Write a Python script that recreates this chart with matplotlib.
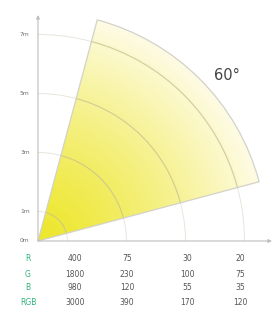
import numpy as np
import matplotlib
matplotlib.use('Agg')
import matplotlib.pyplot as plt
from matplotlib.patches import Wedge, Arc

# Dados do gráfico
beam_angle = 60                     # abertura do feixe (graus)
beam_start = 15                     # borda inferior do feixe (graus)
beam_reach = 7.76                   # alcance (m)
ring_dist = [1, 3, 5, 7]            # distâncias dos arcos (m)
ytick_vals = [0, 1, 3, 5, 7]
ytick_labels = ['0m', '1m', '3m', '5m', '7m']

row_names = ['R', 'G', 'B', 'RGB']
lux_r = [400, 75, 30, 20]
lux_g = [1800, 230, 100, 75]
lux_b = [980, 120, 55, 35]
lux_rgb = [3000, 390, 170, 120]

# Layout (pixels -> metros)
W, H, DPI = 280, 313, 100
px_m = 29.5
ox, oy = 38, 241
cinza = '#bdbdbd'
verde = '#2fb37a'
texto = '#555555'

fig = plt.figure(figsize=(W / DPI, H / DPI), dpi=DPI)
ax = fig.add_axes([0, 0, 1, 1])
ax.set_xlim(-ox / px_m, (W - ox) / px_m)
ax.set_ylim(-(H - oy) / px_m, oy / px_m)
ax.set_aspect('equal')
ax.axis('off')

# Feixe com gradiente radial
wedge = Wedge((0, 0), beam_reach, beam_start, beam_start + beam_angle,
              facecolor='none', edgecolor='#d2d2c8', lw=0.9, zorder=3)
ax.add_patch(wedge)
xs = np.linspace(0, beam_reach, 300)
ys = np.linspace(0, beam_reach, 300)
X, Y = np.meshgrid(xs, ys)
t = np.clip(np.hypot(X, Y) / beam_reach, 0, 1)[..., None] ** 1.25
c0 = np.array([0.93, 0.905, 0.17])
c1 = np.array([0.995, 0.985, 0.90])
img = c0 * (1 - t) + c1 * t
im = ax.imshow(img, origin='lower', extent=(0, beam_reach, 0, beam_reach),
               interpolation='bilinear', zorder=1)
im.set_clip_path(wedge)

# Arcos de distância: claros fora do feixe, mais marcados dentro
for d in ring_dist:
    ax.add_patch(Arc((0, 0), 2 * d, 2 * d, theta1=0, theta2=90,
                     color='#d4d2c0', lw=0.7, alpha=0.55, zorder=2))
    dentro = Arc((0, 0), 2 * d, 2 * d, theta1=beam_start,
                 theta2=beam_start + beam_angle,
                 color='#c8c07a', lw=0.8, alpha=0.6, zorder=2)
    ax.add_patch(dentro)

# Eixos com setas
ax.annotate('', xy=(0, 7.66), xytext=(0, 0),
            arrowprops=dict(arrowstyle='-|>', color=cinza, lw=0.8,
                            mutation_scale=5, shrinkA=0, shrinkB=0), zorder=4)
ax.annotate('', xy=(7.93, 0), xytext=(0, 0),
            arrowprops=dict(arrowstyle='-|>', color=cinza, lw=0.8,
                            mutation_scale=5, shrinkA=0, shrinkB=0), zorder=4)

for v, lab in zip(ytick_vals, ytick_labels):
    ax.text(-0.28, v, lab, ha='right', va='center', fontsize=4.3, color='#6f6f6f')

ax.text(6.4, 5.6, f'{beam_angle}°', ha='center', va='center',
        fontsize=10.5, color='#444444')

# Tabela de iluminância
col_x = [1.25, 3.02, 5.05, 6.85]
row_y = [-0.61, -1.12, -1.59, -2.10]
for nome, vals, y in zip(row_names, [lux_r, lux_g, lux_b, lux_rgb], row_y):
    ax.text(-0.34, y, nome, ha='center', va='center', fontsize=5.5, color=verde)
    for x, v in zip(col_x, vals):
        ax.text(x, y, str(v), ha='center', va='center', fontsize=5.5, color=texto)

fig.savefig('out.png', dpi=DPI)
